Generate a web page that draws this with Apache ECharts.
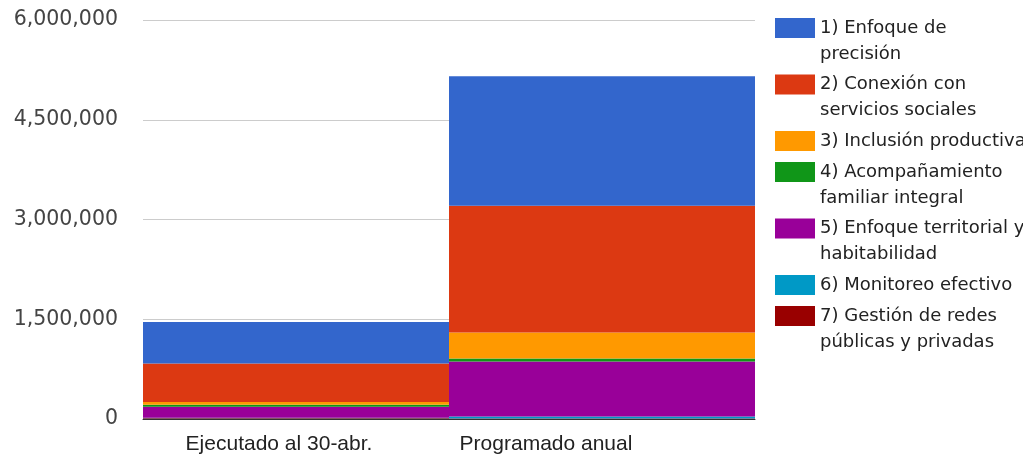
<!DOCTYPE html>
<html>
<head>
<meta charset="utf-8">
<script src="https://cdn.jsdelivr.net/npm/echarts@6/dist/echarts.min.js"></script>
<style>
  html, body { margin: 0; padding: 0; background: #fff; }
  #chart { width: 1023px; height: 458px; }
</style>
</head>
<body>
<div id="chart"></div>
<script>
// categorias del eje x
const categories = ['Ejecutado al 30-abr.', 'Programado anual']

// nombres de las series (orden de la leyenda)
const seriesNames = [
  '1) Enfoque de precisión',
  '2) Conexión con servicios sociales',
  '3) Inclusión productiva',
  '4) Acompañamiento familiar integral',
  '5) Enfoque territorial y habitabilidad',
  '6) Monitoreo efectivo',
  '7) Gestión de redes públicas y privadas'
]
const legendLabels = [
  '1) Enfoque de\nprecisión',
  '2) Conexión con\nservicios sociales',
  '3) Inclusión productiva',
  '4) Acompañamiento\nfamiliar integral',
  '5) Enfoque territorial y\nhabitabilidad',
  '6) Monitoreo efectivo',
  '7) Gestión de redes\npúblicas y privadas'
]

// valores [ejecutado, programado]
const enfoquePrecision = [624000, 1950000]
const conexionServicios = [578000, 1905000]
const inclusionProductiva = [40000, 390000]
const acompanamientoFamiliar = [30000, 48000]
const enfoqueTerritorial = [165000, 825000]
const monitoreoEfectivo = [8000, 30000]
const gestionRedes = [12000, 8000]

// eje y
const yMin = 0
const yMax = 6000000
const yInterval = 1500000

const seriesValues = [
  enfoquePrecision,
  conexionServicios,
  inclusionProductiva,
  acompanamientoFamiliar,
  enfoqueTerritorial,
  monitoreoEfectivo,
  gestionRedes
]
const colors = ['#3366CC', '#DC3912', '#FF9900', '#109618', '#990099', '#0099C6', '#990000']

const chart = echarts.init(document.getElementById('chart'))

// la serie 7 va abajo, la 1 arriba
const seriesData = []
for (let i = seriesNames.length - 1; i >= 0; i--) {
  seriesData.push({
    name: seriesNames[i],
    type: 'bar',
    stack: 'total',
    barCategoryGap: 0,
    itemStyle: { color: colors[i] },
    emphasis: { disabled: true },
    data: seriesValues[i]
  })
}

// una leyenda por item para alinear el cuadro con la primera linea
// (linea vacia delante del texto de dos lineas para bajarlo)
const legends = []
let iconTop = 18
for (let i = 0; i < seriesNames.length; i++) {
  const lines = legendLabels[i].split('\n').length
  const label = lines > 1 ? '\n' + legendLabels[i] : legendLabels[i]
  legends.push({
    orient: 'vertical',
    left: 775,
    top: lines > 1 ? iconTop - 29 : iconTop - 3,
    padding: 0,
    itemWidth: 40,
    itemHeight: 20,
    icon: 'rect',
    selectedMode: false,
    formatter: () => label,
    textStyle: {
      fontFamily: 'DejaVu Sans',
      fontSize: 18,
      color: '#222',
      lineHeight: 26
    },
    data: [seriesNames[i]]
  })
  iconTop += 31 + 25.5 * (lines - 1)
}

const option = {
  animation: false,
  legend: legends,
  grid: {
    left: 143,
    right: 268,
    top: 20,
    bottom: 39
  },
  xAxis: {
    type: 'category',
    data: categories,
    axisTick: { show: false },
    axisLine: { lineStyle: { color: '#333', width: 1 } },
    axisLabel: {
      margin: 15,
      formatter: (v, idx) => (idx === 0 ? '{a|' + v + '}' : '{b|' + v + '}'),
      rich: {
        a: { fontFamily: 'Liberation Sans', fontSize: 21, color: '#222', padding: [0, 34, 0, 0] },
        b: { fontFamily: 'Liberation Sans', fontSize: 21, color: '#222', padding: [0, 112, 0, 0] }
      }
    }
  },
  yAxis: {
    type: 'value',
    min: yMin,
    max: yMax,
    interval: yInterval,
    axisLine: { show: false },
    axisTick: { show: false },
    splitLine: { lineStyle: { color: '#CCCCCC', width: 1 } },
    axisLabel: {
      margin: 25,
      fontFamily: 'DejaVu Sans',
      fontSize: 20.5,
      color: '#444',
      formatter: v => v.toLocaleString('en-US')
    }
  },
  series: seriesData
}

chart.setOption(option)
</script>
</body>
</html>
